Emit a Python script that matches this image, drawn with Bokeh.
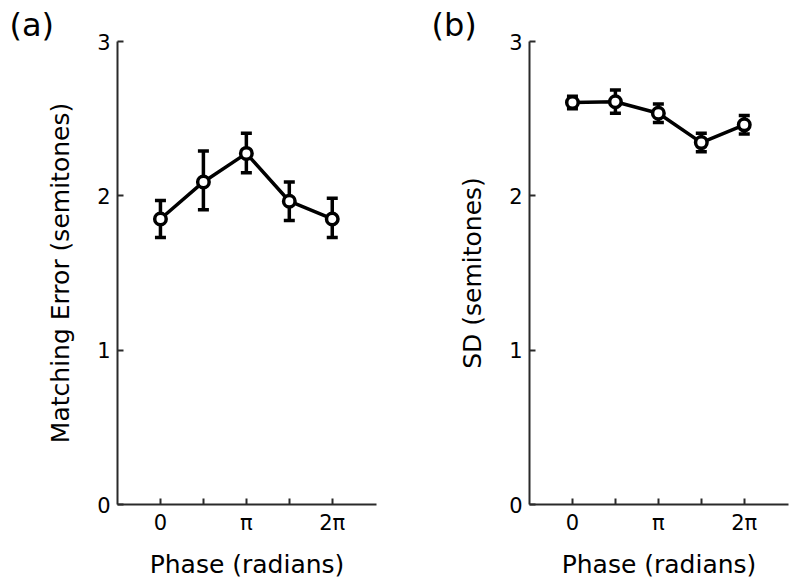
import math
from bokeh.plotting import figure
from bokeh.layouts import row
from bokeh.models import FixedTicker, Range1d, Title
from bokeh.embed import file_html
from bokeh.resources import INLINE

# phase positions (radians): 0, pi/2, pi, 3pi/2, 2pi
phase = [0.0, 1.5708, 3.1416, 4.7124, 6.2832]
tick_labels = {0.0: "0", 1.5708: "", 3.1416: "π", 4.7124: "", 6.2832: "2π"}

# panel (a): matching error
err_mean = [1.85, 2.09, 2.275, 1.965, 1.85]
err_upper = [1.97, 2.29, 2.405, 2.09, 1.985]
err_lower = [1.73, 1.91, 2.15, 1.84, 1.73]

# panel (b): SD
sd_mean = [2.605, 2.61, 2.535, 2.345, 2.46]
sd_upper = [2.645, 2.685, 2.595, 2.405, 2.52]
sd_lower = [2.565, 2.535, 2.475, 2.285, 2.40]

FONT = "DejaVu Sans"


def panel(label, ylabel, mean, upper, lower, left_border, right_border, title_offset):
    fw = 259
    p = figure(width=left_border + fw + right_border, height=583,
               output_backend="svg", toolbar_location=None,
               x_range=Range1d(-1.0 * 1.5708, 5.03 * 1.5708),
               y_range=Range1d(0, 3),
               min_border_left=left_border, min_border_right=right_border,
               min_border_top=41, min_border_bottom=79)
    p.outline_line_color = None
    p.grid.visible = False
    p.background_fill_color = "white"
    p.border_fill_color = "white"

    t = Title(text=label, align="left", offset=title_offset,
              text_font=FONT, text_font_size="32px", text_font_style="normal",
              standoff=-4, text_color="black")
    p.add_layout(t, "above")

    p.axis.axis_line_color = "#2a2a2a"
    p.axis.axis_line_width = 2
    p.axis.major_tick_line_color = "#2a2a2a"
    p.axis.major_tick_line_width = 2
    p.axis.major_tick_in = 6
    p.axis.major_tick_out = 0
    p.axis.minor_tick_line_color = None
    p.axis.major_label_text_font = FONT
    p.axis.major_label_text_font_size = "21px"
    p.axis.major_label_text_color = "black"
    p.axis.axis_label_text_font = FONT
    p.axis.axis_label_text_font_size = "25px"
    p.axis.axis_label_text_font_style = "normal"
    p.axis.axis_label_text_color = "black"

    p.xaxis.ticker = FixedTicker(ticks=phase)
    p.xaxis.major_label_overrides = tick_labels
    p.xaxis.axis_label = "Phase (radians)"
    p.xaxis.major_label_standoff = 6
    p.xaxis.axis_label_standoff = 12

    p.yaxis.ticker = FixedTicker(ticks=[0, 1, 2, 3])
    p.yaxis.axis_label = ylabel
    p.yaxis.major_label_standoff = 7
    p.yaxis.axis_label_standoff = 19

    # error bars
    p.segment(x0=phase, y0=lower, x1=phase, y1=upper,
              line_color="black", line_width=3.5)
    p.scatter(x=phase, y=upper, marker="dash", size=11,
              line_color="black", line_width=3.5)
    p.scatter(x=phase, y=lower, marker="dash", size=11,
              line_color="black", line_width=3.5)
    # connecting line and markers
    p.line(x=phase, y=mean, line_color="black", line_width=3.5)
    p.scatter(x=phase, y=mean, marker="circle", size=11.5,
              fill_color="white", line_color="black", line_width=3.5)
    return p


pa = panel("(a)", "Matching Error (semitones)", err_mean, err_upper, err_lower, 117, 22, -108)
pb = panel("(b)", "SD (semitones)", sd_mean, sd_upper, sd_lower, 131, 8, -98)

layout = row(pa, pb)
open("out.html", "w").write(file_html(layout, INLINE))
